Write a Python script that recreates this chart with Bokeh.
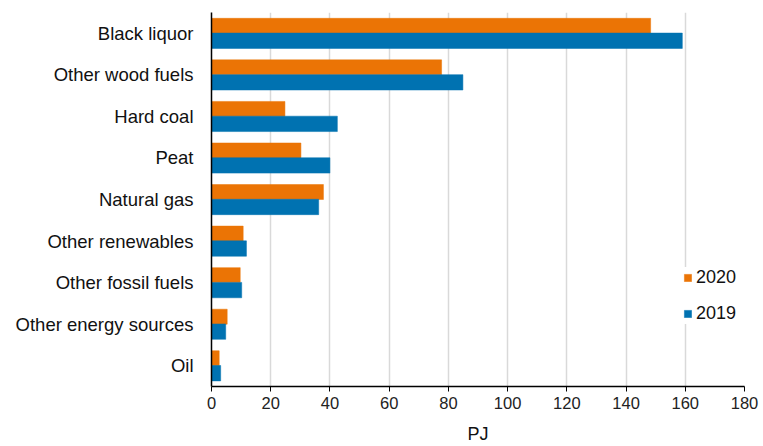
from bokeh.plotting import figure
from bokeh.models import ColumnDataSource, FactorRange, Range1d, Legend, LegendItem, SingleIntervalTicker
from bokeh.transform import dodge
from bokeh.embed import file_html
from bokeh.resources import INLINE

categories = ["Black liquor", "Other wood fuels", "Hard coal", "Peat", "Natural gas",
              "Other renewables", "Other fossil fuels", "Other energy sources", "Oil"]
values_2020 = [148.3, 77.7, 24.8, 30.2, 37.8, 10.7, 9.7, 5.3, 2.6]
values_2019 = [159.0, 84.9, 42.5, 40.0, 36.2, 11.8, 10.2, 4.8, 3.1]
series_names = ["2020", "2019"]

ORANGE = "#EB7405"
BLUE = "#0072B1"
FONT = "Liberation Sans"

src = ColumnDataSource(dict(cat=categories, v2020=values_2020, v2019=values_2019))

p = figure(width=763, height=446, output_backend="svg", toolbar_location=None,
           y_range=FactorRange(factors=list(reversed(categories))),
           x_range=Range1d(0, 180))
p.min_border_left = 211
p.min_border_right = 19
p.min_border_top = 12
p.min_border_bottom = 58
p.outline_line_color = None

r20 = p.hbar(y=dodge("cat", 0.18, range=p.y_range), right="v2020", left=0, height=0.36,
             source=src, fill_color=ORANGE, line_color=ORANGE, line_width=0.5)
r19 = p.hbar(y=dodge("cat", -0.18, range=p.y_range), right="v2019", left=0, height=0.37,
             source=src, fill_color=BLUE, line_color=BLUE, line_width=0.5)

p.xaxis.ticker = SingleIntervalTicker(interval=20)
p.xaxis.axis_label = "PJ"
p.xaxis.axis_label_text_font = FONT
p.xaxis.axis_label_text_font_style = "normal"
p.xaxis.axis_label_text_font_size = "18px"
p.xaxis.axis_label_text_color = "#111111"
p.xaxis.axis_label_standoff = 12
p.xaxis.major_label_text_font = FONT
p.xaxis.major_label_text_font_size = "16.5px"
p.xaxis.major_label_text_color = "#222222"
p.xaxis.axis_line_color = "black"
p.xaxis.axis_line_width = 1.5
p.xaxis.major_tick_line_color = "black"
p.xaxis.major_tick_in = 0
p.xaxis.major_tick_out = 5
p.xaxis.minor_tick_line_color = None

p.yaxis.major_label_text_font = FONT
p.yaxis.major_label_text_font_size = "18.5px"
p.yaxis.major_label_text_color = "#111111"
p.yaxis.axis_line_color = "black"
p.yaxis.axis_line_width = 1.5
p.yaxis.major_tick_line_color = None
p.yaxis.minor_tick_line_color = None
p.yaxis.major_label_standoff = 12

p.ygrid.grid_line_color = None
p.xgrid.grid_line_color = "#d9d9d9"
p.xgrid.grid_line_width = 1.5

legend = Legend(items=[LegendItem(label=series_names[0], renderers=[r20]),
                       LegendItem(label=series_names[1], renderers=[r19])],
                location=(472, 62))
legend.glyph_width = 9
legend.glyph_height = 9
legend.label_standoff = 4
legend.label_text_font = FONT
legend.label_text_font_size = "18px"
legend.label_text_color = "#111111"
legend.spacing = 15
legend.padding = 6
legend.margin = 0
legend.border_line_color = None
legend.background_fill_color = "white"
legend.background_fill_alpha = 1.0
p.add_layout(legend)

open("out.html", "w").write(file_html(p, INLINE))
